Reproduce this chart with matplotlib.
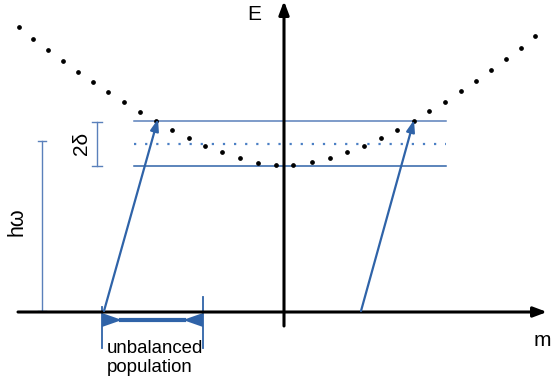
import matplotlib
matplotlib.use("Agg")
import matplotlib.pyplot as plt
from matplotlib.patches import Polygon

# dispersion dots (m, E) measured from the axis crossing
dot_m = [-265, -251, -236, -221, -206, -191, -176, -160, -144, -128, -112, -95,
         -79, -62, -44, -26, -8, 9, 28, 46, 63, 80, 97, 113, 130, 145, 161,
         177, 192, 207, 222, 237, 251]
dot_E = [285, 273, 262, 251, 240, 230, 220, 210, 200, 191, 182, 174, 166, 160,
         154, 149, 147, 147, 150, 154, 160, 166, 174, 182, 191, 201, 210, 221,
         231, 242, 253, 264, 276]

# energy levels: upper, middle (dotted), lower
level_E = [191, 168, 146]
level_span = [-150, 162]

# optical transitions (start m, start E, end m, end E)
trans_left = [-180, 1, -126, 193]
trans_right = [77, 1, 130, 192]

# h-omega and 2-delta markers
hw_m, hw_E = -242, [1, 171]
delta_m, delta_E = -187, [146, 190]

# unbalanced population span
pop_span = [-182, -81]
pop_E = -8

blue = '#2f63a8'
light_blue = '#5a80bb'
font = 'Liberation Sans'

fig = plt.figure(figsize=(5.53, 3.85), dpi=100)
ax = fig.add_axes([0, 0, 1, 1])
ax.set_xlim(-284, 269)
ax.set_ylim(-73, 312)
ax.axis('off')

# axes
ax.annotate('', xy=(263, 0), xytext=(-266, 0),
            arrowprops=dict(arrowstyle='-|>,head_length=0.8,head_width=0.3',
                            lw=2.2, color='black', shrinkA=0, shrinkB=0))
ax.annotate('', xy=(0, 311), xytext=(0, -14),
            arrowprops=dict(arrowstyle='-|>,head_length=0.8,head_width=0.3',
                            lw=2.2, color='black', shrinkA=0, shrinkB=0))
ax.text(-30, 297, 'E', fontsize=15, family=font, ha='center', va='center')
ax.text(258, -28, 'm', fontsize=15, family=font, ha='center', va='center')

# levels
ax.plot(level_span, [level_E[0]] * 2, color=light_blue, lw=1.1)
ax.plot(level_span, [level_E[1]] * 2, color='#4a7fc4', lw=1.6, ls=(0, (1, 4)))
ax.plot(level_span, [level_E[2]] * 2, color=blue, lw=1.1)

# dispersion
ax.plot(dot_m, dot_E, 'o', color='black', ms=2.4, ls='none')

# transitions
for m0, e0, m1, e1 in [trans_left, trans_right]:
    ax.annotate('', xy=(m1, e1), xytext=(m0, e0),
                arrowprops=dict(arrowstyle='-|>,head_length=0.7,head_width=0.25',
                                lw=1.6, color=blue, shrinkA=0, shrinkB=0))

# h-omega bar
ax.plot([hw_m, hw_m], hw_E, color=light_blue, lw=1)
for e in hw_E:
    ax.plot([hw_m - 4, hw_m + 4], [e, e], color=light_blue, lw=1)
ax.text(-267, 90, 'h\u03c9', fontsize=15.5, family=font, rotation=90,
        ha='center', va='center')

# 2-delta bar
ax.plot([delta_m, delta_m], delta_E, color=light_blue, lw=1)
for e in delta_E:
    ax.plot([delta_m - 5, delta_m + 5], [e, e], color=light_blue, lw=1)
ax.text(-202, 169, '2\u03b4', fontsize=15, family=font, rotation=90,
        ha='center', va='center')

# unbalanced population
x0, x1 = pop_span
ax.plot([x0, x0], [5, -36], color=blue, lw=1.3)
ax.plot([x1, x1], [15, -36], color=blue, lw=1.3)
ax.add_patch(Polygon([[x0, pop_E + 7], [x0, pop_E - 7], [x0 + 20, pop_E]],
                     closed=True, color=blue, lw=0))
ax.add_patch(Polygon([[x1, pop_E + 7], [x1, pop_E - 7], [x1 - 20, pop_E]],
                     closed=True, color=blue, lw=0))
ax.plot([x0 + 19, x1 - 19], [pop_E, pop_E], color=blue, lw=3)
ax.text(-177, -46, 'unbalanced\npopulation', fontsize=13.4, family=font,
        ha='left', va='center', linespacing=1.15)

fig.savefig('out.png', dpi=100)
